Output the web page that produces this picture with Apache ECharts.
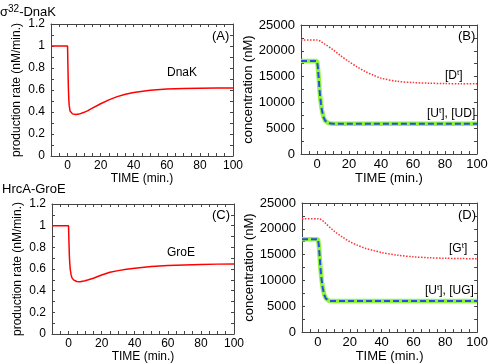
<!DOCTYPE html>
<html><head><meta charset="utf-8">
<script src="https://cdn.jsdelivr.net/npm/echarts@6/dist/echarts.min.js"></script>
<style>html,body{margin:0;padding:0;background:#fff}#c{width:491px;height:364px}</style>
</head><body><div id="c"></div>
<script>
// ---- data ----
var timeRate = [-10,0,0.25,0.5,0.75,1,1.5,2,3,4,5,6,7,8,10,12,15,20,25,30,35,40,50,60,70,80,90,100];
var dnakRate = [1,1,0.8,0.62,0.52,0.46,0.41,0.395,0.383,0.378,0.377,0.378,0.381,0.386,0.397,0.41,0.435,0.475,0.51,0.54,0.562,0.578,0.598,0.609,0.614,0.617,0.618,0.619];
var groeRate = [1,1,0.85,0.72,0.65,0.6,0.55,0.52,0.5,0.49,0.485,0.483,0.483,0.485,0.492,0.5,0.515,0.545,0.57,0.585,0.597,0.607,0.622,0.632,0.638,0.642,0.645,0.647];

var timeU = [-10,0,0.5,1,1.5,2,2.5,3,4,5,6,7,8,10,15,20,40,60,80,100];
var uB = [18000,18000,17000,15000,12800,11000,9700,8600,7200,6500,6150,5980,5900,5860,5850,5850,5850,5850,5850,5850];
var uD = [18000,18000,17000,15000,12800,11000,9700,8600,7200,6500,6200,6050,6010,6000,6000,6000,6000,6000,6000,6000];

var timeT = [-10,0,2,5,10,15,20,25,30,35,40,50,60,70,80,90,100];
var dTotal = [22100,22100,21900,21300,20200,19000,17900,16900,16000,15300,14700,14100,13850,13720,13650,13620,13600];
var gTotal = [21950,21950,21800,21000,19600,18500,17500,16800,16200,15800,15400,14900,14570,14400,14300,14240,14200];

var xLabels = [0,20,40,60,80,100];

function pairs(xs, ys){ return xs.map(function(x,i){return [x, ys[i]];}); }

var FONT = "'Liberation Sans', Arial, Helvetica, sans-serif";
var AX = '#444';

var grids = [
  {left:51, top:24, width:182, height:132},
  {left:301, top:25, width:176, height:129},
  {left:52, top:204, width:182, height:131},
  {left:302, top:203, width:176, height:131}
];

var xAxes = [], yAxes = [];
grids.forEach(function(g, i){
  var right = (i % 2 === 1);
  var fs = right ? 13 : 12;
  var common = {
    gridIndex:i, type:'value', min:-10, max:100, interval:5,
    axisLine:{show:true, onZero:false, lineStyle:{color:AX, width:1}},
    axisTick:{show:true, inside:true, length:3, lineStyle:{color:AX}},
    splitLine:{show:false}
  };
  xAxes.push(Object.assign({}, common, {
    position:'bottom',
    name:'TIME (min.)', nameLocation:'middle', nameGap:17,
    nameTextStyle:{color:'#000', fontSize:fs, fontFamily:FONT},
    axisLabel:{color:'#000', fontSize:fs, fontFamily:FONT, margin:4,
      formatter:function(v){ return (xLabels.indexOf(v) >= 0) ? String(v) : ''; }}
  }));
  xAxes.push(Object.assign({}, common, {position:'top', axisLabel:{show:false}}));

  var ycommon, yname, ymax, yint, yfmt, ygap;
  if (!right) {
    ymax = 1.2; yint = 0.1; yname = 'production rate (nM/min.)'; ygap = 28;
    yfmt = function(v){ var r = Math.round(v*10); return r % 2 === 0 ? String(r/10) : ''; };
  } else {
    ymax = 25000; yint = 2500; yname = 'concentration (nM)'; ygap = 42;
    yfmt = function(v){ return Math.round(v) % 5000 === 0 ? String(Math.round(v)) : ''; };
  }
  ycommon = {
    gridIndex:i, type:'value', min:0, max:ymax, interval:yint,
    axisLine:{show:true, onZero:false, lineStyle:{color:AX, width:1}},
    axisTick:{show:true, inside:true, length:3, lineStyle:{color:AX}},
    splitLine:{show:false}
  };
  yAxes.push(Object.assign({}, ycommon, {
    position:'left', name:yname, nameLocation:'middle', nameGap:ygap,
    nameTextStyle:{color:'#000', fontSize:fs, fontFamily:FONT},
    axisLabel:{color:'#000', fontSize:fs, fontFamily:FONT, margin:6, formatter:yfmt}
  }));
  yAxes.push(Object.assign({}, ycommon, {position:'right', axisLabel:{show:false}}));
});

var series = [
  {type:'line', xAxisIndex:0, yAxisIndex:0, data:pairs(timeRate, dnakRate), showSymbol:false,
   lineStyle:{color:'#ff0000', width:1.5}},
  {type:'line', xAxisIndex:2, yAxisIndex:2, data:pairs(timeT, dTotal), showSymbol:false, smooth:0.3,
   lineStyle:{color:'#ff3333', width:1.5, type:[1.5,1.5]}},
  {type:'line', xAxisIndex:2, yAxisIndex:2, data:pairs(timeU, uB), showSymbol:false,
   lineStyle:{color:'#8cf53c', width:4.5}},
  {type:'line', xAxisIndex:2, yAxisIndex:2, data:pairs(timeU, uB), showSymbol:false,
   lineStyle:{color:'#2a4be6', width:2, type:[6,3]}},
  {type:'line', xAxisIndex:4, yAxisIndex:4, data:pairs(timeRate, groeRate), showSymbol:false,
   lineStyle:{color:'#ff0000', width:1.5}},
  {type:'line', xAxisIndex:6, yAxisIndex:6, data:pairs(timeT, gTotal), showSymbol:false, smooth:0.3,
   lineStyle:{color:'#ff3333', width:1.5, type:[1.5,1.5]}},
  {type:'line', xAxisIndex:6, yAxisIndex:6, data:pairs(timeU, uD), showSymbol:false,
   lineStyle:{color:'#8cf53c', width:4.5}},
  {type:'line', xAxisIndex:6, yAxisIndex:6, data:pairs(timeU, uD), showSymbol:false,
   lineStyle:{color:'#2a4be6', width:2, type:[6,3]}}
];

var rich = {
  a:{fontSize:12, fontFamily:FONT, fill:'#000', color:'#000'},
  s:{fontSize:8, fontFamily:FONT, fill:'#000', color:'#000', verticalAlign:'top', padding:[0,0,6,0]}
};

var graphics = [
  {type:'text', x:0, y:12, z:100, style:{text:'{b|σ}{t|32}{b|-DnaK}', textVerticalAlign:'middle',
    rich:{b:{fontSize:13, fontFamily:FONT, fill:'#000', color:'#000'}, t:{fontSize:10, fontFamily:FONT, fill:'#000', color:'#000', verticalAlign:'top', padding:[0,0,5,0]}}}},
  {type:'text', x:2, y:189, z:100, style:{text:'HrcA-GroE', font:'13px '+FONT, fill:'#000', textVerticalAlign:'middle'}},
  {type:'text', x:212, y:36, z:100, style:{text:'(A)', font:'13px '+FONT, fill:'#000', textVerticalAlign:'middle'}},
  {type:'text', x:167, y:73, z:100, style:{text:'DnaK', font:'12px '+FONT, fill:'#000', textVerticalAlign:'middle'}},
  {type:'text', x:458, y:36, z:100, style:{text:'(B)', font:'13px '+FONT, fill:'#000', textVerticalAlign:'middle'}},
  {type:'text', x:445, y:76, z:100, style:{text:'{a|[D}{s|t}{a|]}', textVerticalAlign:'middle', rich:rich}},
  {type:'text', x:427, y:114, z:100, style:{text:'{a|[U}{s|t}{a|], [UD]}', textVerticalAlign:'middle', rich:rich}},
  {type:'text', x:212, y:215, z:100, style:{text:'(C)', font:'13px '+FONT, fill:'#000', textVerticalAlign:'middle'}},
  {type:'text', x:167, y:253, z:100, style:{text:'GroE', font:'12px '+FONT, fill:'#000', textVerticalAlign:'middle'}},
  {type:'text', x:458, y:215, z:100, style:{text:'(D)', font:'13px '+FONT, fill:'#000', textVerticalAlign:'middle'}},
  {type:'text', x:449, y:249, z:100, style:{text:'{a|[G}{s|t}{a|]}', textVerticalAlign:'middle', rich:rich}},
  {type:'text', x:425, y:291, z:100, style:{text:'{a|[U}{s|t}{a|], [UG]}', textVerticalAlign:'middle', rich:rich}}
];

var chart = echarts.init(document.getElementById('c'), null, {renderer:'canvas'});
chart.setOption({
  animation:false,
  backgroundColor:'#fff',
  textStyle:{fontFamily:FONT},
  grid:grids,
  xAxis:xAxes,
  yAxis:yAxes,
  series:series,
  graphic:graphics
});
</script>
</body></html>
